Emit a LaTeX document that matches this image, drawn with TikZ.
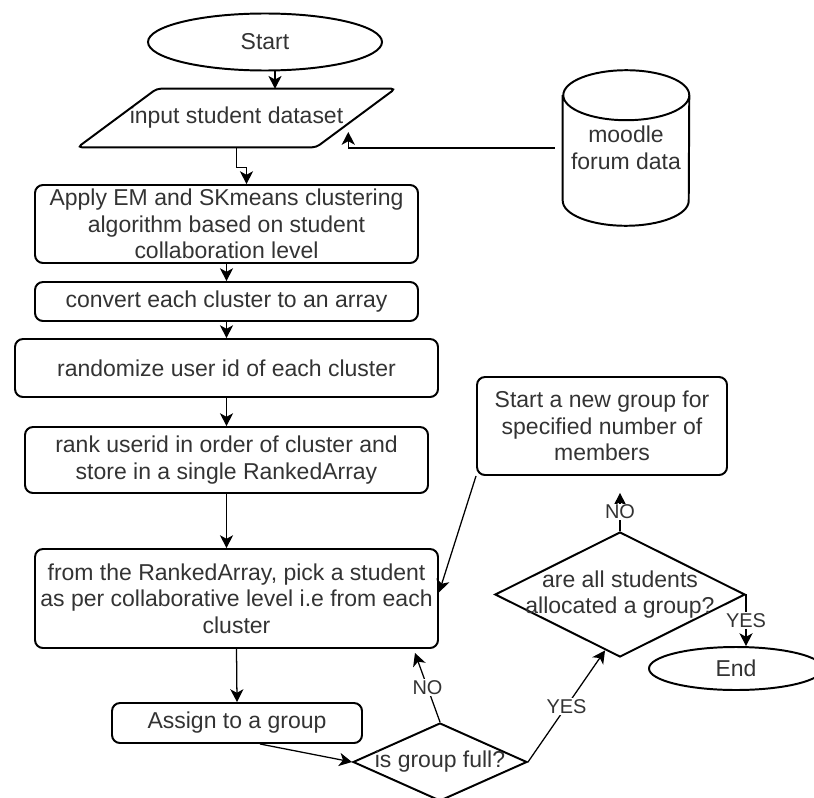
\documentclass[tikz,border=0pt]{standalone}
\usepackage{fontspec}
\setmainfont{Liberation Sans}
\usetikzlibrary{shapes.geometric,arrows.meta}

\begin{document}
\begin{tikzpicture}[
  font=\fontsize{16.35}{18.84}\selectfont,
  text=black!80,
  box/.style={draw=black, line width=1.4pt, rounded corners=2mm, align=center, inner sep=1pt},
  term/.style={draw=black, line width=1.4pt, ellipse, inner sep=1pt},
  decide/.style={draw=black, line width=1.4pt, diamond},
  flow/.style={-{Stealth[length=3.2mm,width=3.3mm,inset=0.9mm]}, line width=0.9pt},
  lbl/.style={fill=white, inner sep=1pt, font=\fontsize{14.2}{16}\selectfont},
]
\useasboundingbox (0,0) rectangle (20.35,-19.95);

\node[term, minimum width=5.85cm, minimum height=1.425cm] (start) at (6.625,-1.05) {Start};
\node[minimum width=7.925cm, minimum height=1.45cm] (input) at (5.9125,-2.95)
  {input student dataset};
\draw[line width=1.4pt, rounded corners=1mm] ([xshift=1.975cm]input.north west) -- (input.north east)
  -- ([xshift=-1.975cm]input.south east) -- (input.south west) -- cycle;

\node[minimum width=3.15cm, minimum height=3.875cm, align=center] (moodle) at (15.65,-3.7)
  {moodle\\forum data};
\draw[line width=1.4pt] ([yshift=-0.625cm]moodle.north west) -- ([yshift=0.625cm]moodle.south west)
  arc[start angle=180, end angle=360, x radius=1.575cm, y radius=0.625cm]
  -- ([yshift=-0.625cm]moodle.north east)
  arc[start angle=0, end angle=180, x radius=1.575cm, y radius=0.625cm]
  arc[start angle=180, end angle=360, x radius=1.575cm, y radius=0.625cm];

\node[box, minimum width=9.575cm, minimum height=1.95cm] (apply) at (5.6625,-5.6)
  {Apply EM and SKmeans clustering\\algorithm based on student\\collaboration level};
\node[box, minimum width=9.575cm, minimum height=0.975cm] (convert) at (5.6625,-7.5375)
  {convert each cluster to an array};
\node[box, minimum width=10.575cm, minimum height=1.45cm] (randomize) at (5.6625,-9.2)
  {randomize user id of each cluster};
\node[box, minimum width=10.075cm, minimum height=1.65cm] (rank) at (5.6625,-11.5)
  {rank userid in order of cluster and\\store in a single RankedArray};
\node[box, minimum width=10.075cm, minimum height=2.475cm] (pick) at (5.9125,-14.9625)
  {from the RankedArray, pick a student\\as per collaborative level i.e from each\\cluster};
\node[box, minimum width=6.25cm, minimum height=1cm] (assign) at (5.925,-18.075)
  {Assign to a group};

\node[decide, minimum width=4.35cm, minimum height=1.95cm] (full) at (11,-19.05) {};
\node (fulltxt) at (full) {is group full?};
\node[decide, minimum width=6.25cm, minimum height=3.125cm] (done) at (15.5,-14.8625) {};
\node[align=center] (donetxt) at (done) {are all students\\allocated a group?};

\node[box, minimum width=6.25cm, minimum height=2.45cm] (newgrp) at (15.05,-10.65)
  {Start a new group for\\specified number of\\members};
\node[term, minimum width=4.35cm, minimum height=1.075cm] (end) at (18.4,-16.7125) {End};

\draw[flow] ([xshift=0.25cm]start.south) -- ([xshift=0.25cm]start.south |- input.north);
\draw[flow] (input.south) -- ++(0,-0.5) -| ([xshift=0.5cm]apply.north);
\draw[flow] ([xshift=-0.2cm]moodle.west) -| ([xshift=-1.175cm,yshift=-0.35cm]input.east);
\draw[flow] (apply.south) -- (convert.north);
\draw[flow] (convert.south) -- (randomize.north);
\draw[flow] (randomize.south) -- (rank.north);
\draw[flow] (rank.south) -- (rank.south |- pick.north);
\draw[flow] (pick.south) -- (assign.north);
\draw[flow] ([xshift=0.575cm]assign.south) -- (full.west);

\draw[flow] (full.north) -- node[lbl] {NO} ([xshift=-0.6cm,yshift=-0.1cm]pick.south east);
\draw[flow] (full.east) -- node[lbl] {YES} (done.255);
\draw[flow] (done.north) -- node[lbl] {NO} ([yshift=-0.425cm]newgrp.south -| done.north);
\draw[flow] (newgrp.south west) -- ([yshift=0.15cm]pick.east);
\draw[flow] (done.east) -| node[lbl, pos=0.75] {YES} ([xshift=0.25cm]end.north);

\end{tikzpicture}
\end{document}
